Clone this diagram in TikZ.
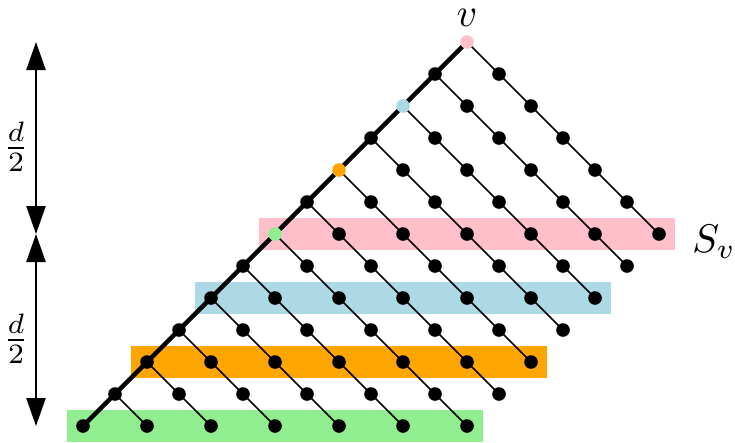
\documentclass[tikz,border=0pt]{standalone}
\usetikzlibrary{arrows.meta}
\definecolor{cpink}{RGB}{255,192,203}
\definecolor{cblue}{RGB}{173,216,230}
\definecolor{corange}{RGB}{255,165,0}
\definecolor{cgreen}{RGB}{144,238,144}
\pgfdeclarelayer{bandlayer}
\pgfdeclarelayer{linelayer}
\pgfsetlayers{bandlayer,linelayer,main}
\tikzset{
  dot/.style={circle, fill=black, inner sep=0pt, minimum size=3.4pt},
  thinline/.style={line width=0.4pt},
  thickline/.style={line width=1.1pt},
  dimarrow/.style={line width=0.4pt, {Triangle[length=7pt,width=4.8pt]}-{Triangle[length=7pt,width=4.8pt]}},
  lbl/.style={inner sep=0pt},
}
\begin{document}
\begin{tikzpicture}[x=0.25pt, y=-0.25pt]
\useasboundingbox (0,0) rectangle (735,442);
% grid of dots
\foreach \k in {0,...,12} {
  \pgfmathtruncatemacro\jmax{min(6,12-\k)}
  \foreach \j in {0,...,\jmax} {
    \def\dotcol{black}
    \ifnum\j=0
      \ifcase\k \def\dotcol{cpink}\or\or \def\dotcol{cblue}\or\or \def\dotcol{corange}\or\or \def\dotcol{cgreen}\fi
    \fi
    \node[dot, fill=\dotcol] (p-\k-\j) at ({467-32*\k+32*\j},{42+32*(\k+\j)}) {};
  }
}
% lines
\begin{pgfonlayer}{linelayer}
  \draw[thickline] (p-0-0.center) -- (p-12-0.center);
  \foreach \k in {0,...,11} {
    \pgfmathtruncatemacro\jmax{min(6,12-\k)}
    \draw[thinline] (p-\k-0.center) -- (p-\k-\jmax.center);
  }
\end{pgfonlayer}
% bands
\begin{pgfonlayer}{bandlayer}
  \fill[cpink]   (259,218) rectangle (675,250);
  \fill[cblue]   (195,282) rectangle (611,314);
  \fill[corange] (131,346) rectangle (547,378);
  \fill[cgreen]  (67,410) rectangle (483,442);
\end{pgfonlayer}
% labels
\node[lbl] (vlabel) at (467,18) {$v$};
\node[lbl, anchor=base] (svlabel) at (714,252) {$S_v$};
% dimension arrows
\coordinate (a0) at (36,42);
\coordinate (a1) at (36,234);
\coordinate (a2) at (36,426);
\draw[dimarrow] (a0) -- (a1);
\draw[dimarrow] (a1) -- (a2);
\node[lbl] (d1) at (16,147) {$\frac{d}{2}$};
\node[lbl] (d2) at (16,339) {$\frac{d}{2}$};
\end{tikzpicture}
\end{document}
